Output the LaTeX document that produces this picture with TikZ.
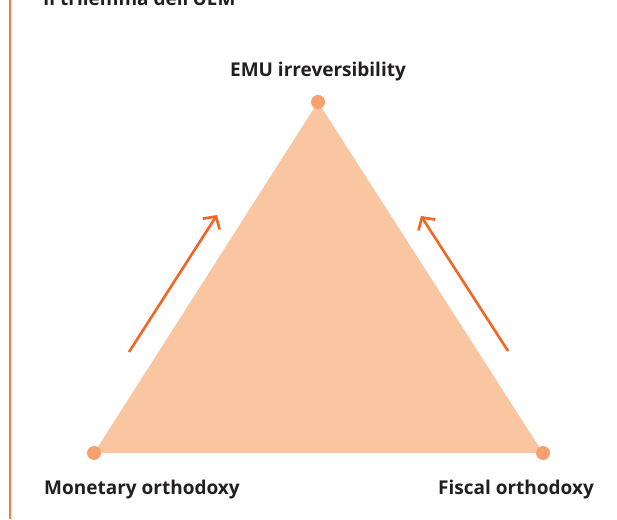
\documentclass[tikz,border=0pt]{standalone}
\usepackage{fontspec}
\setmainfont{Open Sans}
\usepackage{xcolor}
\usetikzlibrary{arrows.meta}
\usetikzlibrary{positioning}
\definecolor{trifill}{HTML}{FAC6A2}
\definecolor{dotfill}{HTML}{F9A070}
\definecolor{arrowcol}{HTML}{F26522}
\definecolor{rulecol}{HTML}{F47B42}
\definecolor{txtcol}{HTML}{231F20}
\tikzset{>=latex}
\tikzstyle{vtx} = [circle, fill=dotfill, draw=none, inner sep=0, minimum size=14pt]
\tikzstyle{lab} = [draw=none, inner sep=0, text=txtcol, font=\bfseries\fontsize{19}{22}\selectfont]
\tikzstyle{push} = [draw=arrowcol, line width=2.6pt, -{Straight Barb[length=9pt, width=20pt]}]

\begin{document}
\begin{tikzpicture}[x=1pt, y=1pt]
\useasboundingbox (0,0) rectangle (617,519);
\draw [rulecol, line width=1.5pt] (10,0) -- (10,519);
\node [lab, anchor=base west] (title) at (43,513) {Il trilemma dell'UEM};
% corners of the trilemma
\coordinate (e) at (318,417);
\coordinate (m) at (94,66);
\coordinate (f) at (543,66);
\fill [trifill] (e) -- (f) -- (m) -- cycle;
\node [vtx] (E) at (e) {};
\node [vtx] (M) at (m) {};
\node [vtx] (F) at (f) {};
\node [lab] (El) at (318,447) {EMU irreversibility};
\node [lab] (Ml) at (142,29) {Monetary orthodoxy};
\node [lab] (Fl) at (516,29) {Fiscal orthodoxy};
% arrows along the sides
\coordinate (a1) at (129,167);
\coordinate (a2) at (217,304);
\coordinate (b1) at (508,168);
\coordinate (b2) at (421,303);
\draw [push] (a1) to (a2);
\draw [push] (b1) to (b2);
\end{tikzpicture}
\end{document}
